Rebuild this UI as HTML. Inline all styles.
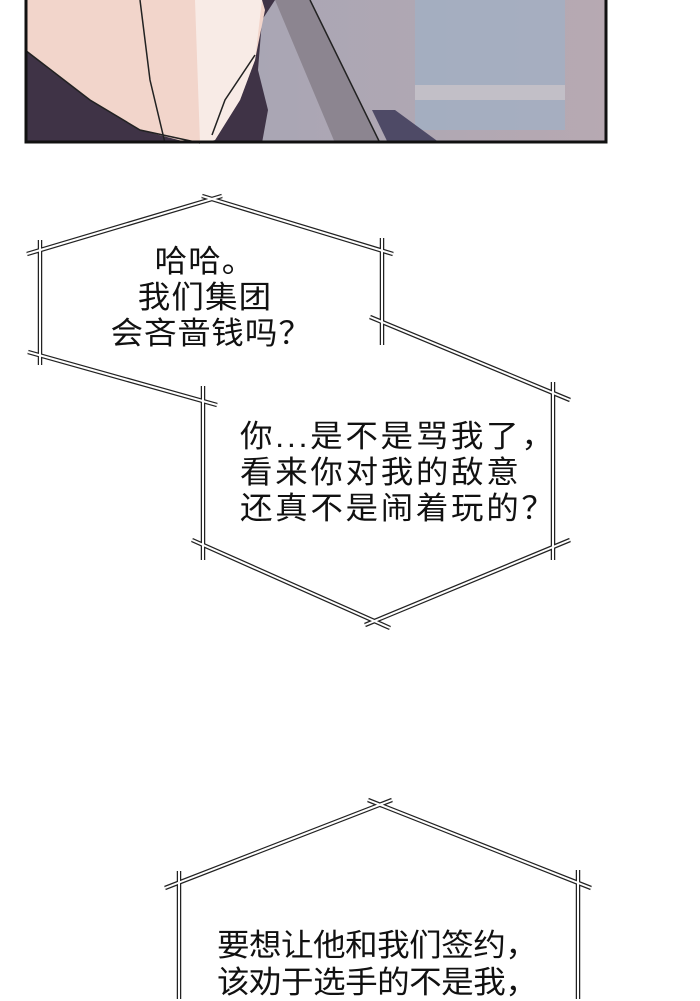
<!DOCTYPE html>
<html><head><meta charset="utf-8"><style>
html,body{margin:0;padding:0;background:#fff;}
body{width:700px;height:999px;position:relative;overflow:hidden;font-family:"Liberation Sans","Noto Sans CJK SC",sans-serif;}
.t{position:absolute;font-size:31px;line-height:36px;color:#111;white-space:nowrap;letter-spacing:2.5px;font-weight:normal;transform:scaleX(1.05);transform-origin:left top;}
</style></head><body>
<svg width="700" height="999" style="position:absolute;left:0;top:0">
<defs>
<linearGradient id="bg" x1="0" x2="1"><stop offset="0" stop-color="#b9aeb6"/><stop offset="0.4" stop-color="#a9a6b4"/><stop offset="1" stop-color="#b7a9b2"/></linearGradient>
</defs>
<rect x="25" y="0" width="582" height="143" fill="url(#bg)"/>
<rect x="415" y="0" width="150" height="130" fill="#9fb0c6" opacity="0.7"/>
<rect x="415" y="85" width="150" height="15" fill="#c9c3c8" opacity="0.8"/>
<path d="M25 0 L275 0 L262 20 L258 70 L268 110 L262 143 L25 143 Z" fill="#3f3346"/>
<path d="M25 0 L262 0 L265 10 L255 60 L240 100 L215 140 L200 143 L190 143 L140 130 L90 100 L50 70 L25 50 Z" fill="#f2d5cb"/>
<path d="M195 0 L262 0 L255 60 L240 100 L215 140 L200 143 Z" fill="#f8ebe6"/>
<path d="M275 0 L310 0 L380 143 L335 143 Z" fill="#8c8590"/>
<path d="M372 110 L395 110 L440 143 L388 143 Z" fill="#4e4a66"/>
<path d="M140 0 L150 80 L165 143" stroke="#222" stroke-width="1.5" fill="none"/>
<path d="M255 55 L225 100 L212 135" stroke="#222" stroke-width="1.5" fill="none"/>
<path d="M25 50 L90 100 L140 130 L200 143" stroke="#222" stroke-width="1.5" fill="none"/>
<path d="M310 0 L380 143" stroke="#222" stroke-width="1.5" fill="none"/>
<path d="M26 0 V142 H606 V0" stroke="#111" stroke-width="3" fill="none"/>
<g stroke-linecap="butt">
<g stroke="#222" stroke-width="4.5" fill="none">
<path d="M27 254 L222 196 M202 196 L393 254 M40 240 V365 M382 238 V345 M28 352 L217 405"/>
<path d="M370 317 L570 400 M553 382 V560 M203 386 V560 M192 540 L390 628 M365 625 L570 540"/>
<path d="M165 888 L392 800 M368 800 L591 888 M179 871 V999 M578 870 V999"/>
</g>
<g stroke="#fff" stroke-width="2" fill="none">
<path d="M27 254 L222 196 M202 196 L393 254 M40 240 V365 M382 238 V345 M28 352 L217 405"/>
<path d="M370 317 L570 400 M553 382 V560 M203 386 V560 M192 540 L390 628 M365 625 L570 540"/>
<path d="M165 888 L392 800 M368 800 L591 888 M179 871 V999 M578 870 V999"/>
</g>
</g>
</svg>
<div class="t" style="left:115px;top:244px;width:180px;text-align:center;transform-origin:center top;letter-spacing:1px">哈哈。<br>我们集团<br>会吝啬钱吗？</div>
<div class="t" style="left:240px;top:419px;">你...是不是骂我了，<br>看来你对我的敌意<br>还真不是闹着玩的？</div>
<div class="t" style="left:217px;top:927px;line-height:37px;letter-spacing:-0.5px">要想让他和我们签约，<br>该劝于选手的不是我，</div>
</body></html>
